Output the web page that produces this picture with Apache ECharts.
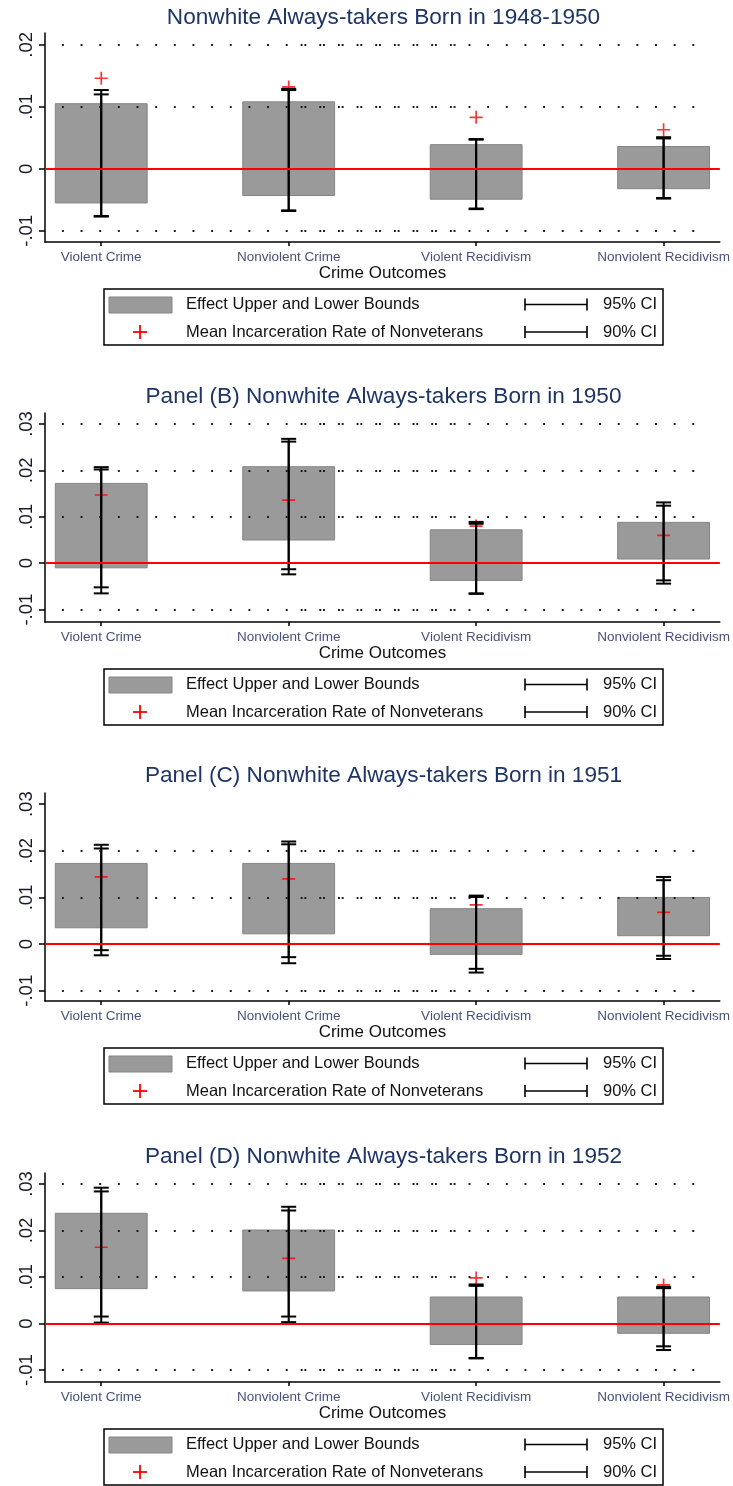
<!DOCTYPE html>
<html>
<head>
<meta charset="utf-8">
<script src="https://cdn.jsdelivr.net/npm/echarts@6/dist/echarts.min.js"></script>
<style>
  html, body { margin: 0; padding: 0; background: #ffffff; }
  #chart { width: 733px; height: 1486px; }
</style>
</head>
<body>
<div id="chart"></div>
<script>
// ---- data ---------------------------------------------------------------
const categories = ['Violent Crime', 'Nonviolent Crime', 'Violent Recidivism', 'Nonviolent Recidivism'];
const categoryPositions = [1, 2, 3, 4];

const panelTitles = [
  'Nonwhite Always-takers Born in 1948-1950',
  'Panel (B) Nonwhite Always-takers Born in 1950',
  'Panel (C) Nonwhite Always-takers Born in 1951',
  'Panel (D) Nonwhite Always-takers Born in 1952'
];

// y-axis ticks and their labels
const yTicksA = [-0.01, 0, 0.01, 0.02];
const yTickLabelsA = ['-.01', '0', '.01', '.02'];
const yTicksBCD = [-0.01, 0, 0.01, 0.02, 0.03];
const yTickLabelsBCD = ['-.01', '0', '.01', '.02', '.03'];

// dotted reference lines per panel
const gridValuesA = [-0.01, 0.01, 0.02];
const gridValuesB = [-0.01, 0.01, 0.02, 0.03];
const gridValuesC = [-0.01, 0.01, 0.02];
const gridValuesD = [-0.01, 0.01, 0.02, 0.03];

// Born 1948-1950
const boundsHighA = [0.0105, 0.0108, 0.0039, 0.0036];
const boundsLowA  = [-0.0055, -0.0043, -0.0049, -0.0032];
const ci95HighA   = [0.0127, 0.0129, 0.0048, 0.0051];
const ci95LowA    = [-0.0077, -0.0068, -0.0065, -0.0048];
const ci90HighA   = [0.0120, 0.0127, 0.0047, 0.0049];
const ci90LowA    = [-0.0076, -0.0067, -0.0064, -0.0047];
const meanRateA   = [0.0146, 0.0132, 0.0083, 0.0063];

// Born 1950
const boundsHighB = [0.0172, 0.0208, 0.0072, 0.0088];
const boundsLowB  = [-0.0010, 0.0050, -0.0037, 0.0009];
const ci95HighB   = [0.0207, 0.0268, 0.0089, 0.0131];
const ci95LowB    = [-0.0065, -0.0024, -0.0066, -0.0044];
const ci90HighB   = [0.0202, 0.0262, 0.0085, 0.0124];
const ci90LowB    = [-0.0052, -0.0013, -0.0065, -0.0037];
const meanRateB   = [0.0147, 0.0136, 0.0080, 0.0060];

// Born 1951
const boundsHighC = [0.0173, 0.0173, 0.0076, 0.0100];
const boundsLowC  = [0.0035, 0.0022, -0.0022, 0.0018];
const ci95HighC   = [0.0213, 0.0220, 0.0104, 0.0144];
const ci95LowC    = [-0.0024, -0.0041, -0.0061, -0.0032];
const ci90HighC   = [0.0205, 0.0214, 0.0101, 0.0137];
const ci90LowC    = [-0.0013, -0.0028, -0.0053, -0.0025];
const meanRateC   = [0.0144, 0.0140, 0.0084, 0.0068];

// Born 1952
const boundsHighD = [0.0237, 0.0201, 0.0057, 0.0057];
const boundsLowD  = [0.0075, 0.0070, -0.0045, -0.0021];
const ci95HighD   = [0.0292, 0.0251, 0.0084, 0.0079];
const ci95LowD    = [0.0002, 0.0003, -0.0075, -0.0057];
const ci90HighD   = [0.0284, 0.0243, 0.0081, 0.0076];
const ci90LowD    = [0.0015, 0.0015, -0.0074, -0.0049];
const meanRateD   = [0.0164, 0.0140, 0.0098, 0.0083];

// ---- layout -------------------------------------------------------------
const FONT = "'Liberation Sans', Arial, sans-serif";
const PLOT_LEFT = 45, PLOT_RIGHT = 722;
const TITLE_X = (PLOT_LEFT + PLOT_RIGHT) / 2;

const panels = [
  { title: panelTitles[0], titleY: 17.5, top: 33, bottom: 242, yMin: -0.0118, yMax: 0.0219,
    ticks: yTicksA, tickLabels: yTickLabelsA, gridValues: gridValuesA, legendTop: 289,
    high: boundsHighA, low: boundsLowA, hi95: ci95HighA, lo95: ci95LowA, hi90: ci90HighA, lo90: ci90LowA, mean: meanRateA },
  { title: panelTitles[1], titleY: 396.5, top: 413, bottom: 622, yMin: -0.01267, yMax: 0.03237,
    ticks: yTicksBCD, tickLabels: yTickLabelsBCD, gridValues: gridValuesB, legendTop: 669,
    high: boundsHighB, low: boundsLowB, hi95: ci95HighB, lo95: ci95LowB, hi90: ci90HighB, lo90: ci90LowB, mean: meanRateB },
  { title: panelTitles[2], titleY: 776, top: 793, bottom: 1001, yMin: -0.0122, yMax: 0.0324,
    ticks: yTicksBCD, tickLabels: yTickLabelsBCD, gridValues: gridValuesC, legendTop: 1048,
    high: boundsHighC, low: boundsLowC, hi95: ci95HighC, lo95: ci95LowC, hi90: ci90HighC, lo90: ci90LowC, mean: meanRateC },
  { title: panelTitles[3], titleY: 1157, top: 1173, bottom: 1382, yMin: -0.01257, yMax: 0.03236,
    ticks: yTicksBCD, tickLabels: yTickLabelsBCD, gridValues: gridValuesD, legendTop: 1429,
    high: boundsHighD, low: boundsLowD, hi95: ci95HighD, lo95: ci95LowD, hi90: ci90HighD, lo90: ci90LowD, mean: meanRateD }
];

const X_MIN = 0.7, X_MAX = 4.3;
const BAR_WIDTH = 0.49;          // in category units
const CAP_HALF = 7.5;            // px
// two overlapping dotted runs (x extents in axis units)
const DOT_RUN_1 = [0.7904, 2.9706];
const DOT_RUN_2 = [2.064, 4.236];

const BAR_FILL = '#9a9a9a', BAR_EDGE = '#858585';
const TITLE_COLOR = '#1f3566';
const LABEL_COLOR = '#46527a';
const PLUS_PATH = 'path://M6.1,0 L7.9,0 L7.9,6.1 L14,6.1 L14,7.9 L7.9,7.9 L7.9,14 L6.1,14 L6.1,7.9 L0,7.9 L0,6.1 L6.1,6.1 Z';

function renderBounds(params, api) {
  const x = api.value(0);
  const top = api.coord([x, api.value(2)]);
  const bot = api.coord([x, api.value(1)]);
  const w = api.size([BAR_WIDTH, 0])[0];
  return {
    type: 'rect',
    shape: { x: top[0] - w / 2, y: top[1], width: w, height: bot[1] - top[1] },
    style: { fill: BAR_FILL, stroke: BAR_EDGE, lineWidth: 1 }
  };
}

function renderInterval(params, api) {
  const x = api.value(0);
  const hi = api.coord([x, api.value(2)]);
  const lo = api.coord([x, api.value(1)]);
  const st = { stroke: '#000', lineWidth: 2, fill: null };
  return {
    type: 'group',
    children: [
      { type: 'line', shape: { x1: hi[0], y1: hi[1], x2: lo[0], y2: lo[1] }, style: st },
      { type: 'line', shape: { x1: hi[0] - CAP_HALF, y1: hi[1], x2: hi[0] + CAP_HALF, y2: hi[1] }, style: st },
      { type: 'line', shape: { x1: lo[0] - CAP_HALF, y1: lo[1], x2: lo[0] + CAP_HALF, y2: lo[1] }, style: st }
    ]
  };
}

const grids = [], xAxes = [], yAxes = [], series = [], graphics = [];

panels.forEach((p, i) => {
  grids.push({ left: PLOT_LEFT, right: 733 - PLOT_RIGHT, top: p.top, height: p.bottom - p.top, containLabel: false });

  xAxes.push({
    gridIndex: i, type: 'value', min: X_MIN, max: X_MAX,
    axisLine: { show: true, onZero: false, lineStyle: { color: '#000', width: 1.5 } },
    axisTick: { show: true, length: 4, customValues: categoryPositions, lineStyle: { color: '#000', width: 1.5 } },
    axisLabel: {
      customValues: categoryPositions,
      formatter: v => categories[Math.round(v) - 1],
      fontFamily: FONT, fontSize: 13.5, color: LABEL_COLOR, margin: 8
    },
    splitLine: { show: false },
    name: 'Crime Outcomes', nameLocation: 'middle', nameGap: 18,
    nameTextStyle: { fontFamily: FONT, fontSize: 17, color: '#111' }
  });

  yAxes.push({
    gridIndex: i, type: 'value', min: p.yMin, max: p.yMax,
    axisLine: { show: true, onZero: false, lineStyle: { color: '#000', width: 1.5 } },
    axisTick: { show: true, length: 6, customValues: p.ticks, lineStyle: { color: '#000', width: 1.5 } },
    axisLabel: {
      customValues: p.ticks, rotate: 90,
      formatter: v => {
        const k = p.ticks.findIndex(t => Math.abs(t - v) < 1e-9);
        return k >= 0 ? p.tickLabels[k] : '';
      },
      fontFamily: FONT, fontSize: 18.5, color: '#1a1a2a', margin: 9
    },
    splitLine: { show: false }
  });

  // reference lines: red zero line and dotted grid
  const refLines = [{ yAxis: 0, lineStyle: { color: '#ff0000', width: 2, type: 'solid' } }];
  p.gridValues.forEach(v => {
    refLines.push([{ coord: [DOT_RUN_1[0], v] }, { coord: [DOT_RUN_1[1], v] }]);
    refLines.push([{ coord: [DOT_RUN_2[0], v] }, { coord: [DOT_RUN_2[1], v] }]);
  });
  series.push({
    type: 'line', name: 'reference', xAxisIndex: i, yAxisIndex: i, data: [], z: 1, silent: true,
    markLine: {
      silent: true, symbol: 'none', label: { show: false }, animation: false,
      lineStyle: { color: '#1a1a1a', width: 1.9, type: [1.9, 16.75] },
      data: refLines
    }
  });

  series.push({
    type: 'custom', name: 'Effect Upper and Lower Bounds', xAxisIndex: i, yAxisIndex: i, z: 2,
    renderItem: renderBounds, itemStyle: { color: BAR_FILL },
    encode: { x: 0, y: [1, 2] },
    data: categoryPositions.map((x, j) => [x, p.low[j], p.high[j]])
  });

  series.push({
    type: 'scatter', name: 'Mean Incarceration Rate of Nonveterans', xAxisIndex: i, yAxisIndex: i, z: 3,
    symbol: PLUS_PATH, symbolSize: 13, itemStyle: { color: '#ff0000' },
    data: categoryPositions.map((x, j) => [x, p.mean[j]])
  });

  series.push({
    type: 'custom', name: '95% CI', xAxisIndex: i, yAxisIndex: i, z: 4,
    renderItem: renderInterval, itemStyle: { color: '#000' },
    encode: { x: 0, y: [1, 2] },
    data: categoryPositions.map((x, j) => [x, p.lo95[j], p.hi95[j]])
  });

  series.push({
    type: 'custom', name: '90% CI', xAxisIndex: i, yAxisIndex: i, z: 4,
    renderItem: renderInterval, itemStyle: { color: '#000' },
    encode: { x: 0, y: [1, 2] },
    data: categoryPositions.map((x, j) => [x, p.lo90[j], p.hi90[j]])
  });

  // panel title
  graphics.push({
    type: 'text', x: TITLE_X, y: p.titleY,
    style: { text: p.title, fontFamily: FONT, fontSize: 22.6, fill: TITLE_COLOR, textAlign: 'center', textVerticalAlign: 'middle' }
  });

  // key box
  const ly = p.legendTop;
  const r1 = ly + 15.5, r2 = ly + 43;
  const ciStyle = { stroke: '#000', lineWidth: 1.6 };
  graphics.push(
    { type: 'rect', shape: { x: 104, y: ly, width: 559, height: 56 }, style: { fill: '#fff', stroke: '#000', lineWidth: 1.5 }, z: 10 },
    { type: 'rect', shape: { x: 109, y: ly + 8, width: 63, height: 16 }, style: { fill: BAR_FILL, stroke: BAR_EDGE, lineWidth: 1 }, z: 11 },
    { type: 'text', x: 186, y: r1, style: { text: 'Effect Upper and Lower Bounds', fontFamily: FONT, fontSize: 16.5, fill: '#111', textVerticalAlign: 'middle' }, z: 11 },
    { type: 'line', shape: { x1: 133, y1: r2, x2: 147, y2: r2 }, style: { stroke: '#ff0000', lineWidth: 1.8 }, z: 11 },
    { type: 'line', shape: { x1: 140, y1: r2 - 7, x2: 140, y2: r2 + 7 }, style: { stroke: '#ff0000', lineWidth: 1.8 }, z: 11 },
    { type: 'text', x: 186, y: r2, style: { text: 'Mean Incarceration Rate of Nonveterans', fontFamily: FONT, fontSize: 16.5, fill: '#111', textVerticalAlign: 'middle' }, z: 11 },
    { type: 'line', shape: { x1: 525, y1: r1, x2: 587, y2: r1 }, style: ciStyle, z: 11 },
    { type: 'line', shape: { x1: 525, y1: r1 - 6, x2: 525, y2: r1 + 6 }, style: ciStyle, z: 11 },
    { type: 'line', shape: { x1: 587, y1: r1 - 6, x2: 587, y2: r1 + 6 }, style: ciStyle, z: 11 },
    { type: 'text', x: 603, y: r1, style: { text: '95% CI', fontFamily: FONT, fontSize: 16.5, fill: '#111', textVerticalAlign: 'middle' }, z: 11 },
    { type: 'line', shape: { x1: 525, y1: r2, x2: 587, y2: r2 }, style: ciStyle, z: 11 },
    { type: 'line', shape: { x1: 525, y1: r2 - 6, x2: 525, y2: r2 + 6 }, style: ciStyle, z: 11 },
    { type: 'line', shape: { x1: 587, y1: r2 - 6, x2: 587, y2: r2 + 6 }, style: ciStyle, z: 11 },
    { type: 'text', x: 603, y: r2, style: { text: '90% CI', fontFamily: FONT, fontSize: 16.5, fill: '#111', textVerticalAlign: 'middle' }, z: 11 }
  );
});

const chart = echarts.init(document.getElementById('chart'), null, { renderer: 'canvas' });
chart.setOption({
  backgroundColor: '#ffffff',
  animation: false,
  grid: grids,
  xAxis: xAxes,
  yAxis: yAxes,
  series: series,
  graphic: graphics
});
</script>
</body>
</html>
